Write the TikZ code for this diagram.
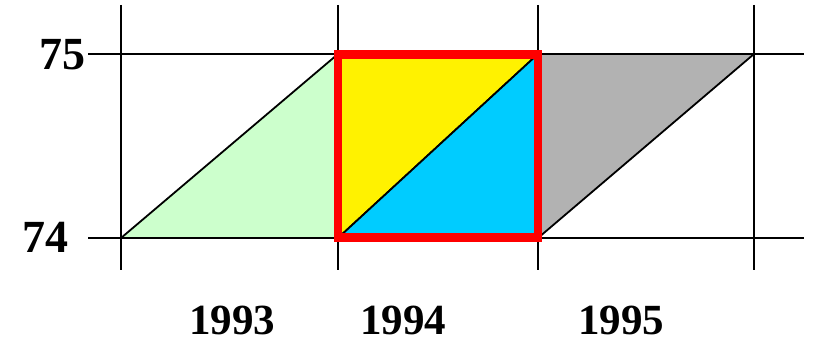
\documentclass[tikz,border=0pt]{standalone}
\usepackage{fontspec}
\setmainfont{Liberation Serif}
\begin{document}
\begin{tikzpicture}[x=1pt,y=-1pt,
  gridline/.style={line width=1.8pt, black},
  tri/.style={draw=black, line width=1.8pt, line join=miter},
  lbl/.style={font=\fontsize{46}{50}\selectfont\bfseries, inner sep=0pt, anchor=center},
  yrlbl/.style={font=\fontsize{43}{48}\selectfont\bfseries, inner sep=0pt, anchor=center}]
\useasboundingbox (0,0) rectangle (814,342);
\definecolor{lgreen}{RGB}{204,255,204}
\definecolor{cblue}{RGB}{0,204,255}
\definecolor{cgray}{RGB}{178,178,178}
% grid
\draw[gridline] (88,54) -- (804,54);
\draw[gridline] (88,238) -- (804,238);
\foreach \x in {121,338,538,754} \draw[gridline] (\x,5) -- (\x,270);
% triangles
\filldraw[tri, fill=lgreen] (121,238) -- (338,54) -- (338,238) -- cycle;
\filldraw[tri, fill=yellow] (338,54) -- (538,54) -- (338,238) -- cycle;
\filldraw[tri, fill=cblue] (338,238) -- (538,54) -- (538,238) -- cycle;
\filldraw[tri, fill=cgray] (538,54) -- (754,54) -- (538,238) -- cycle;
% red frame
\draw[red, line width=8.5pt, line join=miter] (338,54.5) rectangle (538,237.5);
% labels
\node[lbl] (l75) at (62.5,54.5) {75};
\node[lbl] (l74) at (45.5,237) {74};
\node[yrlbl] (y93) at (232,320) {1993};
\node[yrlbl] (y94) at (403,320) {1994};
\node[yrlbl] (y95) at (621,320) {1995};
\end{tikzpicture}
\end{document}
